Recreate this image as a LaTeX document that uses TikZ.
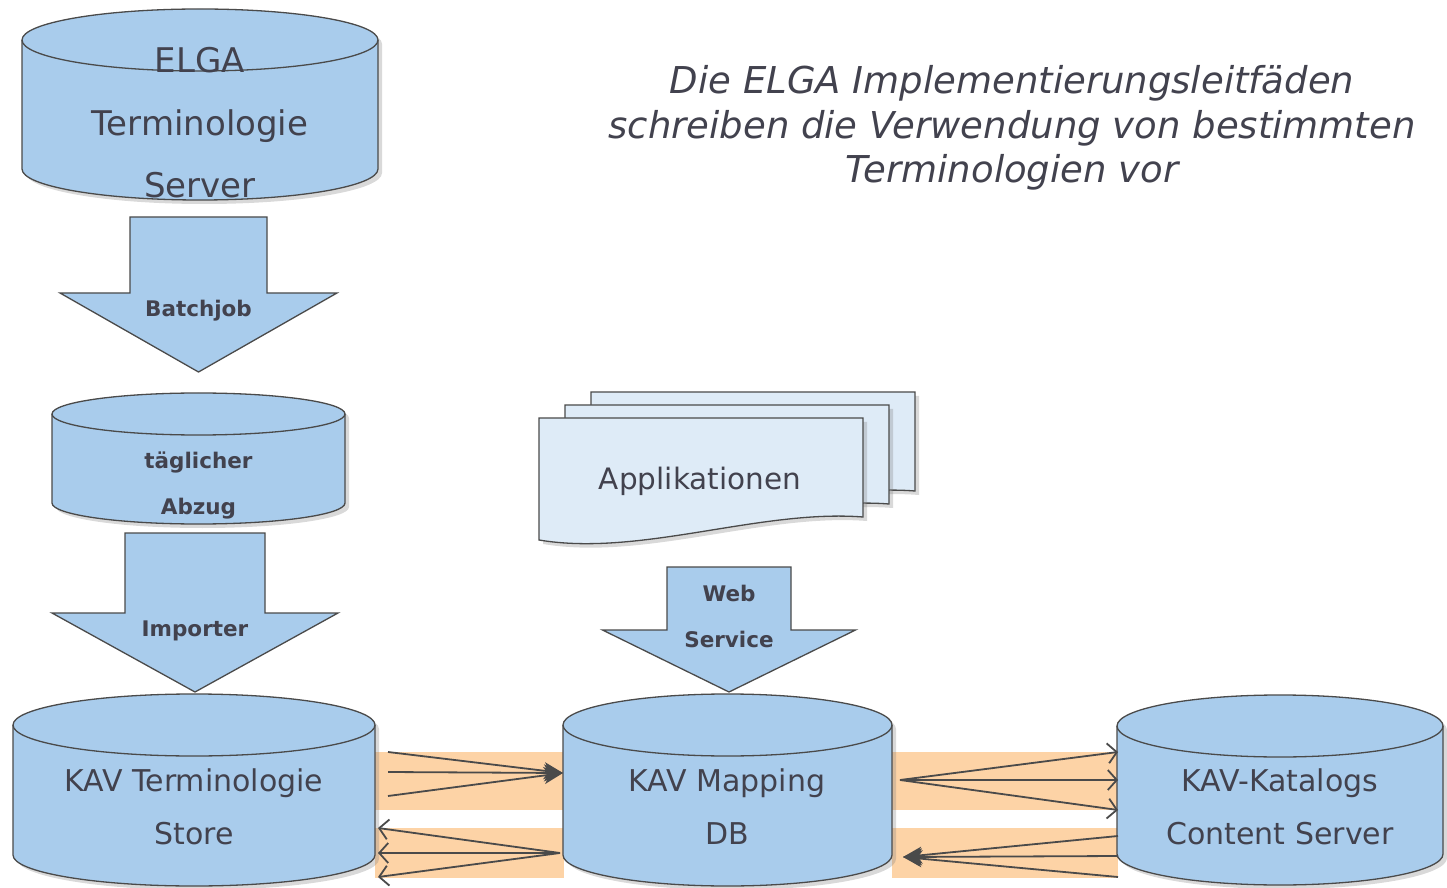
\documentclass[tikz,border=0pt]{standalone}
\usepackage{fontspec}
\setmainfont{DejaVu Sans}[ItalicFont={DejaVu Sans Oblique},BoldFont={DejaVu Sans Bold}]
\usetikzlibrary{arrows.meta,shadows}

\definecolor{dbblue}{HTML}{A9CCEC}
\definecolor{docblue}{HTML}{DEEBF7}
\definecolor{bandorange}{HTML}{FDD3A6}
\definecolor{edgegray}{HTML}{4A4A4A}
\definecolor{textgray}{HTML}{42424E}

\tikzset{
  dbbody/.style={draw=edgegray, fill=dbblue, line width=1.3pt,
    drop shadow={shadow xshift=4pt, shadow yshift=-4pt, opacity=.3}},
  dbedge/.style={draw=edgegray, line width=1.3pt},
  bigarrow/.style={draw=edgegray, fill=dbblue, line width=1.3pt},
  docpage/.style={draw=edgegray, fill=docblue, line width=1.3pt,
    drop shadow={shadow xshift=4pt, shadow yshift=-4pt, opacity=.3}},
  band/.style={fill=bandorange},
  flow/.style={draw=edgegray, line width=1.8pt},
  flowin/.style={flow, -{Stealth[length=19pt,width=17pt,inset=5pt]}},
  flowout/.style={flow, -{Straight Barb[length=9pt,width=20pt]}},
  bigtext/.style={text=textgray, align=center, font=\fontsize{34}{62.5}\selectfont},
  dbtext/.style={text=textgray, align=center, font=\fontsize{30}{53}\selectfont},
  smalltext/.style={text=textgray, align=center, font=\bfseries\fontsize{21.5}{46}\selectfont},
  apptext/.style={text=textgray, font=\fontsize{29.5}{35}\selectfont},
  titletext/.style={text=textgray, align=center, font=\itshape\fontsize{37}{44.5}\selectfont},
}

% cylinder: centre x, half width, top y, bottom y, ellipse radius
\newcommand{\dbcyl}[5]{%
  \filldraw[dbbody] ({#1-#2},#3) -- ({#1-#2},#4)
    arc[start angle=180, end angle=360, x radius=#2pt, y radius=#5pt]
    -- ({#1+#2},#3)
    arc[start angle=0, end angle=180, x radius=#2pt, y radius=#5pt] -- cycle;
  \draw[dbedge] ({#1-#2},#3) arc[start angle=180, end angle=360, x radius=#2pt, y radius=#5pt];}

% block arrow: centre x, top, head base, tip, shaft half width, head half width
\newcommand{\bigarrow}[6]{%
  \filldraw[bigarrow] ({#1-#5},#2) -- ({#1-#5},#3) -- ({#1-#6},#3) -- (#1,#4)
    -- ({#1+#6},#3) -- ({#1+#5},#3) -- ({#1+#5},#2) -- cycle;}

% one sheet of the document stack, shifted
\newcommand{\docsheet}[2]{%
  \filldraw[docpage, shift={(#1,#2)}] (539,469) -- (539,347)
    .. controls (640,330) and (760,378) .. (863,370) -- (863,469) -- cycle;}

\begin{document}
\begin{tikzpicture}[x=1pt, y=1pt]
   \useasboundingbox (0,0) rectangle (1447,887);

   % bands behind the flows
   \fill[band] (375,77) rectangle (564,135);
   \fill[band] (375,9) rectangle (564,59);
   \fill[band] (892,77) rectangle (1118,135);
   \fill[band] (892,9) rectangle (1118,59);

   % databases
   \dbcyl{200}{178}{847}{718}{31}
   \dbcyl{198.5}{146.5}{473}{384}{21}
   \dbcyl{194}{181}{162}{32}{31}
   \dbcyl{727.5}{164.5}{162}{32}{31}
   \dbcyl{1280}{163}{161}{33}{31}

   % block arrows
   \bigarrow{198.5}{670}{594}{515}{68.5}{138.5}
   \bigarrow{195}{354}{274}{195}{70}{143}
   \bigarrow{729}{320}{257}{195}{62}{126.5}

   % applications stack
   \docsheet{52}{26}
   \docsheet{26}{13}
   \docsheet{0}{0}

   \node[bigtext] (elga) at (200,764) {ELGA\\Terminologie\\Server};
   \node[smalltext] (abzug) at (198.5,401.5) {täglicher\\Abzug};
   \node[dbtext] (store) at (194,80.5) {KAV Terminologie\\Store};
   \node[dbtext] (mapping) at (727,80.5) {KAV Mapping\\DB};
   \node[dbtext] (katalog) at (1280,80.5) {KAV-Katalogs\\Content Server};
   \node[apptext] (apps) at (700,406) {Applikationen};
   \node[smalltext] (batchjob) at (198.5,576) {Batchjob};
   \node[smalltext] (importer) at (195,256) {Importer};
   \node[smalltext] (websvc) at (729,270.5) {Web\\Service};
   \node[titletext] (title) at (1012,759) {Die ELGA Implementierungsleitfäden\\schreiben die Verwendung von bestimmten\\Terminologien vor};

   % store -> mapping
   \coordinate (mapinL) at (563,114);
   \coordinate (storeA) at (388,135);
   \coordinate (storeB) at (388,115);
   \coordinate (storeC) at (388,91);
   \draw[flowin] (storeA) -- (mapinL);
   \draw[flowin] (storeB) -- (mapinL);
   \draw[flowin] (storeC) -- (mapinL);

   % mapping -> store
   \coordinate (mapoutL) at (560,34);
   \coordinate (storeD) at (378,59);
   \coordinate (storeE) at (378,34);
   \coordinate (storeF) at (378,10);
   \draw[flowout] (mapoutL) -- (storeD);
   \draw[flowout] (mapoutL) -- (storeE);
   \draw[flowout] (mapoutL) -- (storeF);

   % mapping -> katalog
   \coordinate (mapoutR) at (900,107);
   \coordinate (katA) at (1118,135);
   \coordinate (katB) at (1118,107);
   \coordinate (katC) at (1118,77);
   \draw[flowout] (mapoutR) -- (katA);
   \draw[flowout] (mapoutR) -- (katB);
   \draw[flowout] (mapoutR) -- (katC);

   % katalog -> mapping
   \coordinate (mapinR) at (903,30);
   \coordinate (katD) at (1118,51);
   \coordinate (katE) at (1118,31);
   \coordinate (katF) at (1118,10);
   \draw[flowin] (katD) -- (mapinR);
   \draw[flowin] (katE) -- (mapinR);
   \draw[flowin] (katF) -- (mapinR);

\end{tikzpicture}
\end{document}
